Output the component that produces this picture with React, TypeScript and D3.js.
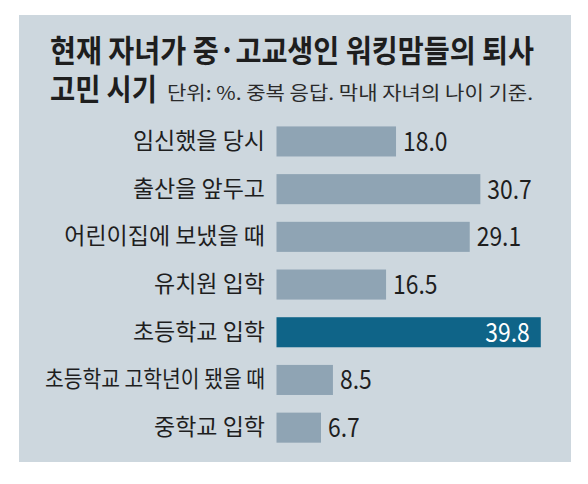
import * as d3 from "d3"

const categories = [
  "임신했을 당시",
  "출산을 앞두고",
  "어린이집에 보냈을 때",
  "유치원 입학",
  "초등학교 입학",
  "초등학교 고학년이 됐을 때",
  "중학교 입학",
]
const values = [18.0, 30.7, 29.1, 16.5, 39.8, 8.5, 6.7]
const highlight = "초등학교 입학"

const titleLine1 = "현재 자녀가 중·고교생인 워킹맘들의 퇴사"
const titleLine2 = "고민 시기"
const subtitle = "단위: %. 중복 응답. 막내 자녀의 나이 기준."

const W = 588
const H = 484
const font = "'Noto Sans CJK KR', 'Noto Sans', sans-serif"
const maxLabelWidth = 220

// long labels get squeezed to fit the label column, like the print version
function fitLabel(el: SVGTextElement | null) {
  if (!el) return
  el.removeAttribute("textLength")
  if (el.getComputedTextLength() > maxLabelWidth) {
    el.setAttribute("textLength", String(maxLabelWidth))
    el.setAttribute("lengthAdjust", "spacingAndGlyphs")
  }
}

export default function App() {
  const x = d3.scaleLinear().domain([0, 40]).range([276.5, 276.5 + 40 * 6.64])
  const y = d3
    .scaleBand<string>()
    .domain(categories)
    .range([117.6, 451.5])
    .paddingInner(0.37)
    .paddingOuter(0.185)

  return (
    <div style={{ position: "absolute", left: 0, top: 0 }}>
      <svg width={W} height={H} style={{ display: "block", background: "#fff" }}>
        <rect x={19} y={15} width={552} height={447} fill="#cdd7de" />

        {/* title */}
        <text
          x={50}
          y={62}
          fontFamily={font}
          fontWeight={700}
          fontSize={31}
          fill="#1e1e1e"
          textLength={484}
          lengthAdjust="spacingAndGlyphs"
        >
          {titleLine1}
        </text>
        <text
          x={50}
          y={100}
          fontFamily={font}
          fontWeight={700}
          fontSize={30}
          fill="#1e1e1e"
          textLength={107}
          lengthAdjust="spacingAndGlyphs"
        >
          {titleLine2}
        </text>
        <text
          x={167}
          y={100}
          fontFamily={font}
          fontWeight={400}
          fontSize={19}
          fill="#2a2a2a"
          textLength={366}
          lengthAdjust="spacingAndGlyphs"
        >
          {subtitle}
        </text>

        {categories.map((c, i) => {
          const v = values[i]
          const top = y(c) ?? 0
          const cy = top + y.bandwidth() / 2
          const hl = c === highlight
          const vx = hl ? x(v) - 11 : x(v) + 7
          return (
            <g key={c}>
              <text
                ref={fitLabel}
                x={265}
                y={cy + 7.5}
                textAnchor="end"
                fontFamily={font}
                fontSize={23}
                fill="#1e1e1e"
              >
                {c}
              </text>
              <rect
                x={x(0)}
                y={top}
                width={x(v) - x(0)}
                height={y.bandwidth()}
                fill={hl ? "#0f6488" : "#8fa4b4"}
              />
              <text
                transform={`translate(${vx}, ${cy + 9.5}) scale(0.88, 1)`}
                textAnchor={hl ? "end" : "start"}
                fontFamily={font}
                fontSize={26}
                fill={hl ? "#fff" : "#1e1e1e"}
              >
                {d3.format(".1f")(v)}
              </text>
            </g>
          )
        })}
      </svg>
    </div>
  )
}
